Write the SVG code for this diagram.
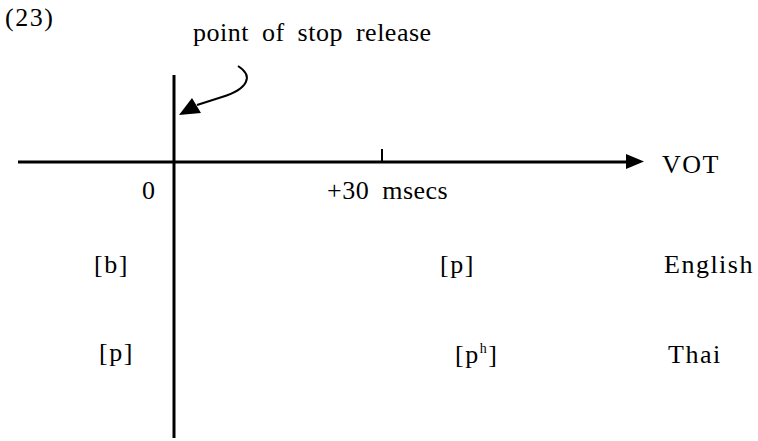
<svg xmlns="http://www.w3.org/2000/svg" width="758" height="441" viewBox="0 0 758 441">
<style>
text{font-family:'Liberation Serif','DejaVu Serif','Times New Roman',serif;font-size:26px;letter-spacing:1.5px;fill:#000}
.ws{letter-spacing:0.5px;word-spacing:6px}
.ax{stroke:#000;stroke-width:3;fill:none}
.thin{stroke:#000;stroke-width:2;fill:none}
</style>
<rect width="758" height="441" fill="#fff"/>
<g id="title"><text x="5" y="26">(23)</text></g>
<g id="release-label"><text class="ws" x="193" y="41">point of stop release</text></g>
<g id="connectors">
<line class="ax" x1="18" y1="162" x2="628" y2="162"/>
<polygon points="626,154 644,161.5 626,169" fill="#000"/>
<line class="ax" x1="174" y1="75" x2="174" y2="438"/>
<line class="thin" x1="382" y1="149" x2="382" y2="162"/>
<path class="thin" d="M238,66 C254,76 248,89 222,97 L197,105"/>
<polygon points="179,115 192,98 201,113" fill="#000"/>
</g>
<g id="zero"><text x="142" y="199">0</text></g>
<g id="thirty"><text class="ws" x="327" y="199">+30 msecs</text></g>
<g id="vot"><text x="662" y="173">VOT</text></g>
<g id="eng-b"><text x="94" y="273">[b]</text></g>
<g id="eng-p"><text x="440" y="273">[p]</text></g>
<g id="english"><text x="664" y="273">English</text></g>
<g id="thai-p"><text x="99" y="361">[p]</text></g>
<g id="thai-ph"><text x="455" y="363">[p<tspan font-size="14" dy="-10">h</tspan><tspan dy="10">]</tspan></text></g>
<g id="thai"><text x="668" y="363">Thai</text></g>
</svg>
